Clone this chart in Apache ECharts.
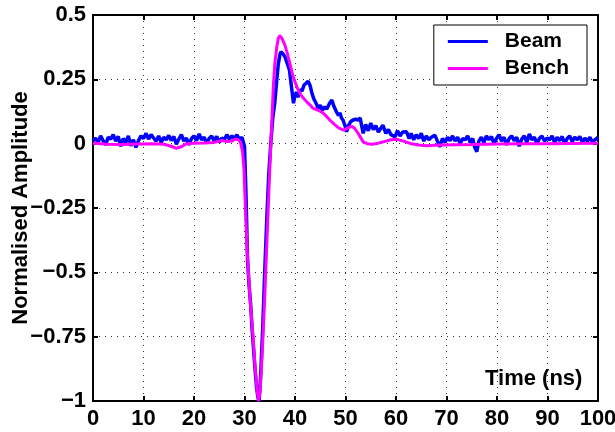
<!DOCTYPE html>
<html>
<head>
<meta charset="utf-8">
<script src="https://cdn.jsdelivr.net/npm/echarts@6/dist/echarts.min.js"></script>
<style>
  html, body { margin: 0; padding: 0; background: #fff; }
  #chart { width: 615px; height: 432px; }
</style>
</head>
<body>
<div id="chart"></div>
<script>
// Beam (measured) pulse, time in ns
const beamT = [0,0.5,1,1.5,2,2.5,3,3.5,4,4.5,5,5.5,6,6.5,7,7.5,8,8.5,9,9.5,
  10,10.5,11,11.5,12,12.5,13,13.5,14,14.5,15,15.5,16,16.5,17,17.5,18,18.5,19,19.5,
  20,20.5,21,21.5,22,22.5,23,23.5,24,24.5,25,25.5,26,26.5,27,27.5,28,28.5,29,29.5,
  30,30.3,30.6,30.9,31.2,31.5,31.8,32.1,32.4,32.7,32.9,33.2,33.6,34,34.4,34.8,35.2,35.6,36,36.4,
  36.7,37,37.2,37.6,38,38.5,38.9,39.3,39.7,40,40.3,40.6,41,41.4,41.8,42.2,42.6,43,43.3,43.7,
  44.1,44.6,45,45.4,45.9,46.3,46.8,47.3,47.7,48.2,48.6,48.9,49.2,49.5,49.9,50.2,50.6,51,51.5,52,
  52.5,52.9,53.2,53.5,54,54.5,55,55.5,56,56.5,57,57.4,58,58.5,59,59.8,60.3,60.8,61.3,62.1,
  62.6,63,63.5,64,64.5,65,65.5,66,66.5,67,67.7,68.2,68.7,69.2,69.7,70.2,70.7,71.2,71.7,72.2,
  72.7,73.2,73.7,74.2,74.7,75.2,75.6,76,76.4,76.9,77.4,77.9,78.4,78.9,79.4,79.9,80.4,80.9,81.4,81.9,
  82.4,82.9,83.4,83.9,84.4,84.9,85.4,85.9,86.4,86.9,87.4,87.9,88.4,88.9,89.4,89.9,90.4,90.9,91.4,91.9,
  92.4,92.9,93.4,93.9,94.4,94.9,95.4,95.9,96.4,96.9,97.4,97.9,98.4,98.9,99.4,100];
const beamV = [0.01,0.022,0.005,0.03,0.012,-0.005,0.025,0.018,0.035,0.01,0.028,-0.01,0.02,0.005,0.03,-0.008,0.015,-0.015,0.012,0.03,
  0.02,0.04,0.018,0.035,0.022,0.01,0.03,0.005,0.025,0.015,0.032,0.012,0.028,-0.002,0.018,0.035,0.01,0.022,-0.005,0.02,
  0.03,0.012,0.038,0.015,0.025,0.002,0.02,0.03,0.01,0.028,0.005,0.022,0.015,0.035,0.018,0.03,0.02,0.035,0.015,0.025,
  -0.01,-0.2,-0.45,-0.55,-0.62,-0.72,-0.8,-0.88,-0.95,-0.99,-1.0,-0.9,-0.72,-0.5,-0.3,-0.12,0.0,0.1,0.16,0.25,
  0.31,0.345,0.357,0.35,0.338,0.31,0.286,0.221,0.157,0.19,0.2,0.18,0.21,0.205,0.228,0.235,0.243,0.225,0.2,0.175,
  0.16,0.137,0.15,0.13,0.143,0.135,0.155,0.17,0.145,0.124,0.11,0.12,0.1,0.092,0.07,0.046,0.07,0.085,0.092,0.095,
  0.092,0.1,0.07,0.04,0.075,0.05,0.08,0.055,0.07,0.045,0.06,0.072,0.04,0.055,0.035,0.027,0.05,0.03,0.045,0.046,
  0.02,0.04,0.015,0.035,0.02,0.04,0.01,0.03,0.015,0.025,0.033,0.01,-0.012,0.02,0.005,0.025,0.012,0.03,0.01,0.025,
  0.0,0.02,0.015,0.03,0.005,0.02,-0.015,-0.031,0.01,0.025,0.005,0.03,0.015,0.028,0.0,0.02,0.035,0.01,0.025,-0.005,
  0.02,0.03,0.012,0.025,-0.01,0.018,0.03,0.005,0.038,0.015,0.025,0.0,0.02,0.03,0.01,0.022,0.015,0.03,0.005,0.025,
  0.012,0.028,0.0,0.02,0.03,0.008,0.025,0.015,0.028,0.005,0.022,0.01,0.025,0.005,0.015,0.025];

// Bench (reference) pulse
const benchT = [0,3,6,9,12,14,15.5,16.5,17.5,18.5,20,22,24,25.5,26.5,27.5,28.2,28.8,29.2,29.6,
  29.9,30.2,30.5,30.8,31.2,31.7,32.1,32.5,32.8,33.1,33.5,34,34.5,35.1,35.4,35.7,36,36.4,36.7,37,
  37.4,38,38.5,39,39.5,40,40.5,41,41.6,42.3,43,43.6,44.6,45.5,46.3,47,47.8,48.7,49.6,50.4,
  51.2,51.8,52.5,53.5,54.3,55.2,56.5,58,59,60.1,61.5,62.8,64.5,66,68.7,72,75.2,80,85,90,95,100];
const benchV = [0.002,-0.002,-0.003,-0.001,0.0,-0.002,-0.01,-0.018,-0.012,0.0,0.002,0.003,0.005,0.012,0.008,0.01,0.018,0.015,0.005,-0.03,
  -0.1,-0.26,-0.4,-0.51,-0.63,-0.75,-0.87,-0.96,-1.0,-0.96,-0.82,-0.6,-0.35,-0.05,0.08,0.22,0.31,0.377,0.41,0.42,
  0.41,0.383,0.35,0.31,0.27,0.24,0.215,0.195,0.178,0.163,0.15,0.137,0.13,0.12,0.105,0.09,0.075,0.06,0.053,0.06,
  0.068,0.06,0.04,0.007,0.0,-0.002,0.002,0.01,0.015,0.017,0.01,0.001,-0.005,-0.008,-0.005,-0.004,-0.003,-0.001,0.0,0.0,0.001,0.002];

const xTicks = [0, 100, 10];        // min, max, interval
const yTicks = [-1, 0.5, 0.25];

const chart = echarts.init(document.getElementById('chart'), null, { renderer: 'canvas' });

const font = 'Liberation Sans';
const minus = v => String(v).replace('-', '\u2212');
const gridLine = { show: true, lineStyle: { color: '#333', type: [1, 5], width: 1 } };
const frame = { onZero: false, lineStyle: { color: '#000', width: 2 } };
const ticks = { inside: true, length: 5, lineStyle: { color: '#000', width: 2 } };
const tickFont = { fontFamily: font, fontWeight: 'bold', fontSize: 22, color: '#000' };

chart.setOption({
  animation: false,
  title: {
    text: 'Time (ns)', left: 485, top: 368, padding: 0,
    textStyle: { fontFamily: font, fontWeight: 'bold', fontSize: 22, color: '#000' }
  },
  grid: { left: 93, right: 17, top: 15, bottom: 31, containLabel: false, outerBoundsMode: 'none' },
  legend: {
    right: 28, top: 25,
    orient: 'vertical',
    backgroundColor: '#fff',
    borderColor: '#000', borderWidth: 1,
    padding: [6, 18, 6, 14],
    itemWidth: 40, itemHeight: 3, itemGap: 6,
    icon: 'rect',
    textStyle: { fontFamily: font, fontWeight: 'bold', fontSize: 21, color: '#000', padding: [0, 0, 0, 12] },
    data: ['Beam', 'Bench']
  },
  xAxis: [{
    type: 'value', min: xTicks[0], max: xTicks[1], interval: xTicks[2],
    axisLine: frame, axisTick: ticks,
    axisLabel: Object.assign({ margin: 7 }, tickFont),
    splitLine: gridLine
  }, {
    type: 'value', position: 'top', min: xTicks[0], max: xTicks[1], interval: xTicks[2],
    axisLine: frame, axisTick: ticks,
    axisLabel: { show: false }, splitLine: { show: false }
  }],
  yAxis: [{
    type: 'value', min: yTicks[0], max: yTicks[1], interval: yTicks[2],
    name: 'Normalised Amplitude', nameLocation: 'middle', nameGap: 61, nameMoveOverlap: false,
    nameTextStyle: { fontFamily: font, fontWeight: 'bold', fontSize: 22, color: '#000' },
    axisLine: frame, axisTick: ticks,
    axisLabel: Object.assign({ margin: 7, formatter: minus }, tickFont),
    splitLine: gridLine
  }, {
    type: 'value', position: 'right', min: yTicks[0], max: yTicks[1], interval: yTicks[2],
    axisLine: frame, axisTick: ticks,
    axisLabel: { show: false }, splitLine: { show: false }
  }],
  series: [{
    name: 'Bench', type: 'line', showSymbol: false, symbol: 'none', z: 2,
    lineStyle: { color: '#ff00ff', width: 3 }, itemStyle: { color: '#ff00ff' },
    data: benchT.map((t, i) => [t, benchV[i]])
  }, {
    name: 'Beam', type: 'line', showSymbol: false, symbol: 'none', z: 1,
    lineStyle: { color: '#0000ff', width: 3.5 }, itemStyle: { color: '#0000ff' },
    data: beamT.map((t, i) => [t, beamV[i]])
  }]
});
</script>
</body>
</html>
